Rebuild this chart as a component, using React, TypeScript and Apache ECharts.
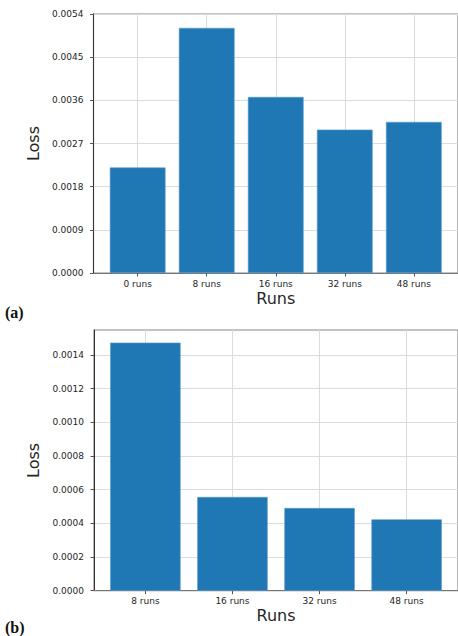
import React, { useEffect, useRef } from "react";
import * as echarts from "echarts";

const categoriesA = ["0 runs", "8 runs", "16 runs", "32 runs", "48 runs"];
const lossA = [0.0022, 0.00511, 0.00367, 0.00299, 0.00315];
const yTicksA = [0, 0.0009, 0.0018, 0.0027, 0.0036, 0.0045, 0.0054];

const categoriesB = ["8 runs", "16 runs", "32 runs", "48 runs"];
const lossB = [0.001474, 0.000557, 0.000491, 0.000424];
const yTicksB = [0, 0.0002, 0.0004, 0.0006, 0.0008, 0.001, 0.0012, 0.0014];

const BAR = "#1f77b4";
const TXT = "#262626";
const FONT = "DejaVu Sans";

function xAxisFor(cats: string[], gridIndex: number, pad: number) {
  const idx = cats.map((_, i) => i);
  return {
    type: "value",
    gridIndex,
    min: -pad,
    max: cats.length - 1 + pad,
    name: "Runs",
    nameLocation: "middle",
    nameGap: 17,
    nameTextStyle: { fontSize: 16, color: TXT, fontFamily: FONT },
    axisLine: { show: true, onZero: false, lineStyle: { color: "#777", width: 1.2 } },
    axisTick: { show: true, customValues: idx, length: 3.5, lineStyle: { color: "#555" } },
    axisLabel: {
      customValues: idx,
      formatter: (v: number) => cats[Math.round(v)] ?? "",
      fontSize: 9,
      color: TXT,
      fontFamily: FONT,
      margin: 6,
    },
    splitLine: { show: true, lineStyle: { color: "#dcdcdc", width: 1 } },
  };
}

function yAxisFor(ticks: number[], gridIndex: number, max: number) {
  return {
    type: "value",
    gridIndex,
    min: 0,
    max,
    name: "Loss",
    nameLocation: "middle",
    nameGap: 45,
    nameTextStyle: { fontSize: 16, color: TXT, fontFamily: FONT },
    axisLine: { show: true, onZero: false, lineStyle: { color: "#333", width: 1 } },
    axisTick: { show: true, customValues: ticks, length: 3.5, lineStyle: { color: "#555" } },
    axisLabel: {
      customValues: ticks,
      formatter: (v: number) => v.toFixed(4),
      fontSize: 9,
      color: TXT,
      fontFamily: FONT,
      margin: 10,
    },
    splitLine: { show: true, lineStyle: { color: "#dcdcdc", width: 1 } },
  };
}

export default function App() {
  const ref = useRef<HTMLDivElement>(null);
  useEffect(() => {
    if (!ref.current) return;
    const chart = echarts.init(ref.current, null, { renderer: "svg" });
    chart.setOption({
      animation: false,
      backgroundColor: "#fff",
      grid: [
        { left: 93.5, top: 14, width: 368, height: 259, show: true, borderColor: "#888", borderWidth: 1.2, backgroundColor: "transparent" },
        { left: 94, top: 330, width: 368, height: 260.7, show: true, borderColor: "#888", borderWidth: 1.2, backgroundColor: "transparent" },
      ],
      xAxis: [xAxisFor(categoriesA, 0, 0.64), xAxisFor(categoriesB, 1, 0.59)],
      yAxis: [yAxisFor(yTicksA, 0, 0.0054), yAxisFor(yTicksB, 1, 0.001549)],
      series: [
        {
          type: "bar",
          xAxisIndex: 0,
          yAxisIndex: 0,
          barWidth: 55.7,
          itemStyle: { color: BAR, borderColor: "#5b9bd0", borderWidth: 0.6 },
          data: lossA.map((v, i) => [i, v]),
        },
        {
          type: "bar",
          xAxisIndex: 1,
          yAxisIndex: 1,
          barWidth: 70.4,
          itemStyle: { color: BAR, borderColor: "#5b9bd0", borderWidth: 0.6 },
          data: lossB.map((v, i) => [i, v]),
        },
      ],
      graphic: [
        { type: "text", left: 5, top: 304, style: { text: "(a)", fontSize: 16, fontWeight: "bold", fontFamily: "Liberation Serif", fill: "#111" } },
        { type: "text", left: 5, top: 619, style: { text: "(b)", fontSize: 16, fontWeight: "bold", fontFamily: "Liberation Serif", fill: "#111" } },
      ],
    });
    return () => chart.dispose();
  }, []);
  return <div ref={ref} style={{ position: "fixed", left: 0, top: 0, width: 458, height: 636 }} />;
}
